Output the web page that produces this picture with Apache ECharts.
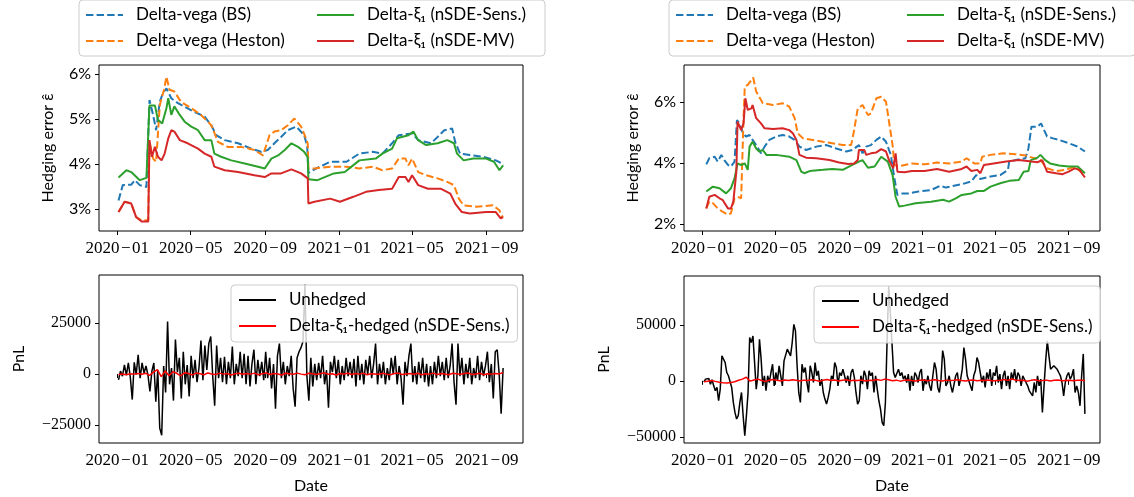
<!DOCTYPE html>
<html>
<head>
<meta charset="utf-8">
<script src="https://cdn.jsdelivr.net/npm/echarts@6/dist/echarts.min.js"></script>
<style>html,body{margin:0;padding:0;background:#fff}#c{width:1134px;height:497px}</style>
</head>
<body>
<div id="c"></div>
<script>
// ---------- data ----------
const seriesNames = ['Delta-vega (BS)', 'Delta-vega (Heston)', 'Delta-\u03BE\u2081 (nSDE-Sens.)', 'Delta-\u03BE\u2081 (nSDE-MV)'];
const pnlNames = ['Unhedged', 'Delta-\u03BE\u2081-hedged (nSDE-Sens.)'];
const xTickDates = ['2020-01-01', '2020-05-01', '2020-09-01', '2021-01-01', '2021-05-01', '2021-09-01'];
const yTicksLeftTop = [3, 4, 5, 6];
const yTicksRightTop = [2, 4, 6];
const yTicksLeftBottom = [-25000, 0, 25000];
const yTicksRightBottom = [-50000, 0, 50000];
const pnlStart = '2020-01-03';
const pnlEnd = '2021-09-28';

// Left top panel (hedging error, %)
const leftBS = [["2020-01-03",3.19],["2020-01-10",3.53],["2020-01-24",3.54],["2020-01-30",3.64],["2020-02-07",3.53],["2020-02-18",3.49],["2020-02-21",3.48],["2020-02-23",5.42],["2020-02-29",5.09],["2020-03-05",4.75],["2020-03-11",5.38],["2020-03-16",5.57],["2020-03-22",5.68],["2020-03-30",5.46],["2020-04-10",5.35],["2020-04-21",5.27],["2020-05-07",5.16],["2020-05-24",5.05],["2020-06-04",4.86],["2020-06-12",4.64],["2020-06-26",4.53],["2020-07-18",4.46],["2020-08-09",4.34],["2020-08-25",4.27],["2020-09-05",4.31],["2020-09-16",4.46],["2020-09-27",4.60],["2020-10-08",4.75],["2020-10-22",4.83],["2020-11-04",4.64],["2020-11-09",4.40],["2020-11-11",3.80],["2020-11-21",3.88],["2020-12-17",4.05],["2021-01-13",4.05],["2021-02-03",4.23],["2021-02-25",4.27],["2021-03-13",4.23],["2021-03-29",4.46],["2021-04-09",4.64],["2021-05-01",4.68],["2021-05-11",4.53],["2021-06-01",4.46],["2021-06-12",4.60],["2021-06-23",4.75],["2021-07-06",4.79],["2021-07-11",4.49],["2021-07-19",4.23],["2021-08-04",4.20],["2021-08-26",4.16],["2021-09-16",4.08],["2021-09-26",4.01],["2021-09-28",3.97]];
const leftHeston = [["2020-01-03",2.93],["2020-01-13",3.16],["2020-01-24",3.12],["2020-02-01",2.82],["2020-02-10",2.75],["2020-02-21",2.75],["2020-02-23",4.49],["2020-02-29",4.12],["2020-03-05",4.05],["2020-03-11",5.31],["2020-03-18",5.65],["2020-03-22",5.94],["2020-03-27",5.65],["2020-04-04",5.61],["2020-04-15",5.38],["2020-05-02",5.24],["2020-05-18",5.09],["2020-06-04",4.86],["2020-06-15",4.49],["2020-07-01",4.38],["2020-07-23",4.38],["2020-08-14",4.31],["2020-08-28",4.19],["2020-09-08",4.64],["2020-09-16",4.72],["2020-09-27",4.75],["2020-10-08",4.86],["2020-10-19",5.01],["2020-10-30",4.83],["2020-11-07",4.57],["2020-11-10",4.45],["2020-11-11",3.90],["2020-11-21",3.90],["2020-12-17",3.94],["2021-01-13",3.94],["2021-02-03",3.90],["2021-02-25",3.94],["2021-03-13",3.86],["2021-03-29",3.90],["2021-04-09",4.12],["2021-04-20",4.12],["2021-04-25",3.97],["2021-05-01",4.12],["2021-05-11",3.82],["2021-05-24",3.75],["2021-06-12",3.68],["2021-06-28",3.60],["2021-07-09",3.53],["2021-07-17",3.23],["2021-07-25",3.08],["2021-08-15",3.05],["2021-09-11",3.08],["2021-09-22",2.97],["2021-09-26",2.82],["2021-09-28",2.85]];
const leftSens = [["2020-01-03",3.70],["2020-01-16",3.86],["2020-01-24",3.82],["2020-02-07",3.64],["2020-02-18",3.69],["2020-02-21",3.70],["2020-02-23",5.30],["2020-03-03",5.30],["2020-03-08",4.98],["2020-03-15",4.90],["2020-03-22",5.24],["2020-03-25",5.46],["2020-03-30",5.09],["2020-04-04",5.28],["2020-04-13",5.09],["2020-04-21",4.94],["2020-05-02",4.83],["2020-05-13",4.75],["2020-05-24",4.53],["2020-06-04",4.53],["2020-06-09",4.23],["2020-06-20",4.16],["2020-07-07",4.08],["2020-07-29",4.01],["2020-08-20",3.94],["2020-08-31",3.90],["2020-09-11",4.12],["2020-09-22",4.19],["2020-10-03",4.31],["2020-10-14",4.46],["2020-10-25",4.38],["2020-11-04",4.27],["2020-11-10",4.15],["2020-11-11",3.66],["2020-11-26",3.64],["2020-12-23",3.79],["2021-01-10",3.82],["2021-02-03",4.08],["2021-03-02",4.12],["2021-03-13",4.23],["2021-03-29",4.34],["2021-04-06",4.57],["2021-04-25",4.64],["2021-05-03",4.72],["2021-05-11",4.53],["2021-05-24",4.42],["2021-06-12",4.46],["2021-06-28",4.53],["2021-07-09",4.46],["2021-07-14",4.23],["2021-07-25",4.08],["2021-08-10",4.12],["2021-08-31",4.12],["2021-09-13",4.05],["2021-09-22",3.86],["2021-09-28",3.97]];
const leftMV = [["2020-01-03",2.93],["2020-01-13",3.16],["2020-01-24",3.12],["2020-02-01",2.82],["2020-02-10",2.72],["2020-02-21",2.72],["2020-02-23",4.53],["2020-02-27",4.16],["2020-03-03",4.38],["2020-03-08",4.16],["2020-03-14",4.08],["2020-03-19",4.23],["2020-03-25",4.57],["2020-03-30",4.75],["2020-04-04",4.72],["2020-04-13",4.53],["2020-04-26",4.46],["2020-05-13",4.34],["2020-05-24",4.23],["2020-06-04",4.16],["2020-06-09",3.94],["2020-06-26",3.86],["2020-07-18",3.82],["2020-08-14",3.75],["2020-08-31",3.71],["2020-09-11",3.79],["2020-09-27",3.79],["2020-10-14",3.88],["2020-10-30",3.79],["2020-11-10",3.68],["2020-11-11",3.12],["2020-11-21",3.16],["2020-12-17",3.23],["2021-01-02",3.16],["2021-01-24",3.27],["2021-02-14",3.38],["2021-03-07",3.42],["2021-03-29",3.45],["2021-04-09",3.71],["2021-04-20",3.71],["2021-04-25",3.60],["2021-05-01",3.75],["2021-05-11",3.53],["2021-05-27",3.45],["2021-06-17",3.45],["2021-07-03",3.34],["2021-07-11",3.12],["2021-07-22",2.93],["2021-08-04",2.90],["2021-08-31",2.93],["2021-09-16",2.93],["2021-09-24",2.79],["2021-09-28",2.82]];

// Right top panel (hedging error, %)
const rightBS = [["2020-01-07",3.96],["2020-01-12",4.16],["2020-01-21",4.21],["2020-01-26",4.05],["2020-02-01",4.27],["2020-02-06",4.10],["2020-02-12",3.94],["2020-02-17",3.89],["2020-02-23",4.05],["2020-02-27",5.41],["2020-03-02",5.30],["2020-03-08",4.98],["2020-03-13",4.87],["2020-03-19",4.92],["2020-03-24",4.76],["2020-03-30",4.59],["2020-04-07",4.32],["2020-04-13",4.54],["2020-04-21",4.76],["2020-05-02",4.87],["2020-05-13",4.92],["2020-05-24",4.87],["2020-06-02",4.76],["2020-06-10",4.54],["2020-06-21",4.43],["2020-07-08",4.54],["2020-07-25",4.59],["2020-08-10",4.48],["2020-08-27",4.38],["2020-09-06",4.43],["2020-09-17",4.59],["2020-09-23",4.32],["2020-09-29",4.54],["2020-10-07",4.59],["2020-10-16",4.76],["2020-10-24",4.87],["2020-11-01",4.70],["2020-11-09",4.27],["2020-11-15",3.50],["2020-11-20",2.96],["2020-11-29",3.01],["2020-12-09",3.01],["2020-12-25",3.07],["2021-01-15",3.12],["2021-01-30",3.26],["2021-02-09",3.20],["2021-02-22",3.26],["2021-03-07",3.31],["2021-03-23",3.40],["2021-03-31",3.61],["2021-04-07",3.48],["2021-04-24",3.56],["2021-05-10",3.61],["2021-05-23",3.78],["2021-05-25",4.05],["2021-06-05",4.10],["2021-06-21",4.16],["2021-06-26",4.48],["2021-07-01",5.19],["2021-07-11",5.19],["2021-07-17",5.30],["2021-07-27",4.87],["2021-08-06",4.81],["2021-08-16",4.76],["2021-09-01",4.65],["2021-09-16",4.54],["2021-09-28",4.38]];
const rightHeston = [["2020-01-07",2.52],["2020-01-12",2.74],["2020-01-18",2.69],["2020-01-26",2.52],["2020-02-03",2.41],["2020-02-12",2.31],["2020-02-17",2.36],["2020-02-23",2.85],["2020-02-28",2.90],["2020-03-05",2.85],["2020-03-08",2.90],["2020-03-09",5.47],["2020-03-11",6.50],["2020-03-16",6.56],["2020-03-22",6.72],["2020-03-25",6.80],["2020-03-30",6.34],["2020-04-04",6.17],["2020-04-10",5.96],["2020-04-27",5.90],["2020-05-13",5.96],["2020-05-24",5.85],["2020-06-02",5.47],["2020-06-07",4.98],["2020-06-16",4.81],["2020-07-02",4.76],["2020-07-19",4.70],["2020-08-04",4.65],["2020-08-21",4.59],["2020-09-04",4.59],["2020-09-09",5.08],["2020-09-15",5.79],["2020-09-23",5.90],["2020-10-02",5.57],["2020-10-07",5.63],["2020-10-16",6.12],["2020-10-24",6.17],["2020-11-01",6.01],["2020-11-06",5.36],["2020-11-12",4.59],["2020-11-15",3.94],["2020-11-23",3.90],["2020-12-14",3.99],["2021-01-04",3.96],["2021-01-25",4.02],["2021-02-14",3.99],["2021-03-07",4.05],["2021-03-15",4.16],["2021-03-28",3.99],["2021-04-07",3.99],["2021-04-10",4.21],["2021-04-24",4.27],["2021-05-15",4.32],["2021-06-05",4.29],["2021-06-21",4.25],["2021-07-06",4.16],["2021-07-16",4.10],["2021-07-27",3.83],["2021-08-11",3.74],["2021-08-27",3.78],["2021-09-11",3.89],["2021-09-21",3.72],["2021-09-28",3.61]];
const rightSens = [["2020-01-07",3.07],["2020-01-18",3.23],["2020-01-29",3.18],["2020-02-09",3.01],["2020-02-17",3.18],["2020-02-23",3.50],["2020-02-28",3.99],["2020-03-05",3.94],["2020-03-11",3.99],["2020-03-16",3.78],["2020-03-19",4.54],["2020-03-24",4.70],["2020-03-30",4.48],["2020-04-04",4.38],["2020-04-10",4.43],["2020-04-16",4.27],["2020-05-02",4.27],["2020-05-24",4.21],["2020-06-05",4.10],["2020-06-13",3.72],["2020-06-18",3.67],["2020-06-27",3.74],["2020-07-19",3.78],["2020-08-04",3.81],["2020-08-21",3.78],["2020-09-06",3.94],["2020-09-17",4.05],["2020-09-23",4.10],["2020-10-02",3.85],["2020-10-13",3.89],["2020-10-24",4.21],["2020-11-04",4.05],["2020-11-12",3.61],["2020-11-17",2.90],["2020-11-23",2.58],["2020-12-02",2.61],["2020-12-20",2.69],["2021-01-15",2.74],["2021-02-04",2.80],["2021-02-14",2.74],["2021-02-25",2.85],["2021-03-07",2.96],["2021-03-23",3.01],["2021-04-02",3.09],["2021-04-13",3.09],["2021-04-24",3.23],["2021-05-10",3.34],["2021-05-25",3.42],["2021-06-10",3.45],["2021-06-18",3.72],["2021-06-26",3.74],["2021-06-30",4.10],["2021-07-11",4.18],["2021-07-16",4.27],["2021-07-24",4.10],["2021-08-01",3.99],["2021-08-16",3.92],["2021-09-01",3.89],["2021-09-16",3.89],["2021-09-28",3.67]];
const rightMV = [["2020-01-07",2.52],["2020-01-12",2.90],["2020-01-21",2.96],["2020-01-29",2.85],["2020-02-03",2.80],["2020-02-12",2.52],["2020-02-17",2.52],["2020-02-21",2.74],["2020-02-26",3.72],["2020-02-28",5.36],["2020-03-02",5.30],["2020-03-05",5.08],["2020-03-09",5.30],["2020-03-12",6.12],["2020-03-16",5.74],["2020-03-22",5.79],["2020-03-24",5.90],["2020-03-30",5.47],["2020-04-07",5.30],["2020-04-13",5.14],["2020-04-27",5.12],["2020-05-13",5.14],["2020-05-24",5.08],["2020-05-30",4.98],["2020-06-05",4.76],["2020-06-10",4.27],["2020-06-21",4.18],["2020-07-08",4.16],["2020-07-30",4.10],["2020-08-15",4.02],["2020-08-30",3.97],["2020-09-09",3.99],["2020-09-15",4.10],["2020-09-17",4.43],["2020-09-26",4.43],["2020-09-29",4.27],["2020-10-07",4.32],["2020-10-16",4.35],["2020-10-24",4.46],["2020-11-01",4.38],["2020-11-06",4.10],["2020-11-13",3.83],["2020-11-17",4.32],["2020-11-20",3.72],["2020-12-02",3.70],["2020-12-14",3.74],["2021-01-04",3.74],["2021-01-25",3.81],["2021-02-14",3.72],["2021-03-07",3.81],["2021-03-15",3.89],["2021-03-23",3.74],["2021-04-02",3.78],["2021-04-07",3.67],["2021-04-13",3.94],["2021-04-29",3.99],["2021-05-20",4.05],["2021-06-10",4.10],["2021-07-01",4.05],["2021-07-11",4.03],["2021-07-19",4.10],["2021-07-27",3.72],["2021-08-11",3.67],["2021-08-22",3.64],["2021-09-01",3.72],["2021-09-11",3.83],["2021-09-19",3.78],["2021-09-28",3.53]];

// Bottom panels: PnL, evenly spaced trading-day samples from pnlStart to pnlEnd
const leftUnhedged = [-2800,1500,-1000,4500,-500,5500,-1500,-12500,5800,-200,9500,-2000,5500,500,4000,-500,-8500,1500,5500,-13500,2000,-26500,-30000,4000,-9000,25800,-5000,3000,-13000,17000,1000,8000,-12000,11000,-5000,4500,-11000,9000,-2000,7000,-4000,3000,16500,-3000,14000,2000,15000,18500,-1000,-15500,14000,-2000,8000,-4000,8500,-5000,6000,-2000,13500,-5000,5000,-1000,11000,-2000,10000,-5000,9000,-6000,5000,12000,-5000,7000,-1000,6000,-3000,11000,-2000,8000,-7000,5000,-17000,9000,15000,-2000,6000,-5000,4000,-1000,9000,-7000,-16000,8000,11000,13000,16000,44000,-1000,-13000,8000,-6000,5000,-3000,5500,-2000,9000,-5000,2000,-16500,6000,1000,9000,-2000,7000,-5000,4000,-3000,8000,-1000,6000,-2000,7500,-6000,9000,-3000,5000,-5000,7000,0,9000,-2000,5000,15000,-5000,5000,-2000,6000,-5000,3000,-3000,8000,0,9000,-5000,4000,-2000,-15000,6000,-1000,9000,15000,-4000,4000,-5000,6000,-2000,8000,-4000,5000,-6000,4000,-5000,6000,-2000,9000,-1000,6000,-3000,8000,-2000,4000,15000,-4000,-15000,15000,-1000,8000,-5000,5000,-2000,8000,-5000,3000,-2000,9000,-3000,6000,-1000,4000,11000,-4000,5000,-12000,11000,12000,0,-19500,3000];
const leftHedged = [-200,100,-300,200,0,300,-100,400,-600,1000,2200,-1200,1500,-800,1200,400,-900,700,300,-400,500,200,-300,600,100,-200,500,0,300,-400,200,400,-100,300,0,500,-300,200,600,-200,300,100,-400,400,200,-100,500,0,-300,400,200,-200,300,600,-100,200,-400,300,100,400,-200,300,0,500,-300,200,100,-100,400,0,-300,300,500,-200,100,300,-100,400,-300,200,0,500,-200,300,100,-300,400,200,-100,300,600,-200,100,400,-300,200,0,300,100,800];
const rightUnhedged = [-900,1500,2100,2100,-3000,900,-4500,-8900,-5900,-17800,-7400,22300,20800,16300,7400,4500,5900,-5900,-19300,-28200,-34100,-31200,-19300,-10400,-31200,-49000,-31200,-10400,38600,34100,40000,38600,-7400,4500,37100,19300,-4500,4500,-8900,4500,-1500,7400,14800,-4500,7400,0,13400,4500,-4500,17800,16300,28200,29700,22300,34100,50400,44500,13400,-10400,-19300,14800,7400,11900,-1500,-10400,13400,7400,-1500,16300,4500,8900,-4500,1500,-10400,-16300,-20800,-14800,-7400,4500,1500,16300,11900,-4500,7400,4500,10400,4500,-1500,4500,-4500,7400,10400,3000,-10400,-20800,-17800,4500,-3000,8900,4500,-7400,8900,4500,7400,-10400,4500,-7400,-17800,-25200,-37100,-40000,-19300,34100,84600,60800,34100,7400,3000,4500,10400,4500,7400,1500,4500,-1500,5900,-8900,4500,-4500,7400,4500,-1500,7400,10400,-8900,1500,-3000,4500,-4500,-8900,4500,16300,10400,-5900,-10400,1500,27000,19300,-4500,-1500,4500,-4500,-10400,-11900,4500,7400,-4500,1500,10400,29700,19300,4500,0,-4500,-8900,4500,8900,20800,16300,7400,-1500,4500,-5900,7400,1500,10400,-4500,7400,4500,13400,-1500,5900,-7400,4500,8900,-4500,4500,-7400,7400,1500,10400,-1500,7400,4500,-4500,4500,4500,-1500,-4500,-8900,-7400,-13400,-1500,-10400,4500,-4500,1500,-28200,-4500,17800,35600,22300,10400,11900,13400,11900,10400,7400,4500,-1500,-13400,-1500,4500,7400,1500,4500,10400,-10400,-4500,-10400,-22300,4500,24000,-29500];
const rightHedged = [-900,-300,200,-500,-1200,-1800,-2000,-1500,-800,500,1500,3200,-300,800,1500,300,-500,600,1200,400,-200,800,300,1000,500,-100,600,200,900,400,-300,500,1100,300,700,-200,400,900,100,600,300,800,-100,500,200,1200,400,1500,900,100,600,-300,400,800,200,-200,500,700,0,400,900,300,-100,600,200,500,1000,300,-200,400,700,100,500,200,800,-100,300,600,1200,400,1600,800,200,500,-300,400,900,100,300,600,-200,400,700,100,300,500,0,400,600,300];

// ---------- helpers ----------
function ts(s) { const p = s.split('-').map(Number); return new Date(p[0], p[1] - 1, p[2]).getTime(); }
const DAY = 86400000;
const base = ts('2020-01-01');
function pairs(arr) { return arr.map(p => [ts(p[0]), p[1]]); }
function spread(vals) { const a = ts(pnlStart), b = ts(pnlEnd); return vals.map((v, i) => [a + (b - a) * i / (vals.length - 1), v]); }
const xTicks = xTickDates.map(ts);
function fmtDate(v) { const d = new Date(v); const m = d.getMonth() + 1; return d.getFullYear() + '\u200A\u2212\u200A' + (m < 10 ? '0' + m : m); }
function fmtNum(v) { return v < 0 ? '\u2212' + Math.abs(v) : String(v); }

const SERIF = 'Liberation Serif';
const SANS = 'Lato';
const colors = ['#1f77b4', '#ff7f0e', '#2ca02c', '#d62728'];
const dash = [7.4, 3.2];

const grids = [
  { left: 99, top: 65, width: 424, height: 166 },
  { left: 684, top: 65, width: 416, height: 166 },
  { left: 99, top: 275, width: 424, height: 168 },
  { left: 684, top: 276, width: 416, height: 167 }
].map(g => Object.assign({ show: true, borderColor: '#000', borderWidth: 1, backgroundColor: 'transparent', containLabel: false }, g));

function xAxis(i, minDay, maxDay, withName) {
  return {
    type: 'value', gridIndex: i, scale: true,
    min: base + minDay * DAY, max: base + maxDay * DAY,
    axisLine: { show: false }, splitLine: { show: false },
    axisTick: { show: true, length: 4, lineStyle: { color: '#000', width: 1 }, customValues: xTicks },
    axisLabel: { customValues: xTicks, formatter: fmtDate, fontFamily: SERIF, fontSize: 17, color: '#000', margin: 9, hideOverlap: false },
    name: withName ? 'Date' : '', nameLocation: 'middle', nameGap: 35,
    nameTextStyle: { fontFamily: SANS, fontSize: 16, color: '#000' }
  };
}
function yAxis(i, min, max, ticks, fmt, font, name) {
  return {
    type: 'value', gridIndex: i, min: min, max: max,
    axisLine: { show: false }, splitLine: { show: false },
    axisTick: { show: true, length: 4, lineStyle: { color: '#000', width: 1 }, customValues: ticks },
    axisLabel: { customValues: ticks, formatter: fmt, fontFamily: font, fontSize: 16, color: '#000', margin: 8 },
    name: name, nameLocation: 'middle', nameRotate: 90,
    nameGap: name === 'PnL' ? 72 : 43,
    nameTextStyle: { fontFamily: SANS, fontSize: 16, color: '#000' }
  };
}

function topSeries(idx, datasets) {
  return datasets.map((d, k) => ({
    name: seriesNames[k], type: 'line', xAxisIndex: idx, yAxisIndex: idx,
    data: pairs(d), showSymbol: false, symbol: 'none', animation: false,
    lineStyle: { color: colors[k], width: 2, type: k < 2 ? dash : 'solid' },
    itemStyle: { color: colors[k] }
  }));
}
function bottomSeries(idx, unhedged, hedged) {
  return [
    { name: pnlNames[0], type: 'line', xAxisIndex: idx, yAxisIndex: idx, data: spread(unhedged), showSymbol: false, symbol: 'none', animation: false,
      lineStyle: { color: '#000', width: 1.5 }, itemStyle: { color: '#000' } },
    { name: pnlNames[1], type: 'line', xAxisIndex: idx, yAxisIndex: idx, data: spread(hedged), showSymbol: false, symbol: 'none', animation: false,
      lineStyle: { color: '#ff0000', width: 1.5 }, itemStyle: { color: '#ff0000' } }
  ];
}

const legendBase = {
  orient: 'horizontal', selectedMode: false, itemWidth: 37, itemHeight: 14, itemGap: 8,
  itemStyle: { opacity: 0 },
  backgroundColor: 'rgba(255,255,255,0.8)', borderColor: '#cccccc', borderWidth: 1, borderRadius: 4,
  textStyle: { fontFamily: SANS, fontSize: 17, color: '#000', lineHeight: 18, padding: [0, 0, 0, 8] }
};
function topLegend(left) {
  return Object.assign({}, legendBase, {
    left: left, top: 0, width: 456, padding: [6, 6, 6, 6],
    data: [seriesNames[0], seriesNames[2], seriesNames[1], seriesNames[3]],
    textStyle: Object.assign({}, legendBase.textStyle, { width: 172 })
  });
}
function bottomLegend(left, top) {
  return Object.assign({}, legendBase, {
    orient: 'vertical', left: left, top: top, padding: [6, 8, 7, 7],
    data: pnlNames
  });
}

const option = {
  animation: false,
  backgroundColor: '#fff',
  grid: grids,
  xAxis: [xAxis(0, -30.2, 668.8, false), xAxis(1, -31.1, 661.1, false), xAxis(2, -30.2, 668.8, true), xAxis(3, -31.1, 661.1, true)],
  yAxis: [
    yAxis(0, 2.51, 6.2, yTicksLeftTop, v => v + '%', SANS, 'Hedging error \u03B5\u0302'),
    yAxis(1, 1.78, 7.21, yTicksRightTop, v => v + '%', SANS, 'Hedging error \u03B5\u0302'),
    yAxis(2, -33824, 48676, yTicksLeftBottom, fmtNum, SERIF, 'PnL'),
    yAxis(3, -55480, 93500, yTicksRightBottom, fmtNum, SERIF, 'PnL')
  ],
  legend: [topLegend(79), topLegend(669), bottomLegend(231, 285), bottomLegend(814, 286)],
  series: [].concat(
    topSeries(0, [leftBS, leftHeston, leftSens, leftMV]),
    topSeries(1, [rightBS, rightHeston, rightSens, rightMV]),
    bottomSeries(2, leftUnhedged, leftHedged),
    bottomSeries(3, rightUnhedged, rightHedged)
  )
};
const chart = echarts.init(document.getElementById('c'), null, { renderer: 'canvas' });
chart.setOption(option);
</script>
</body>
</html>
